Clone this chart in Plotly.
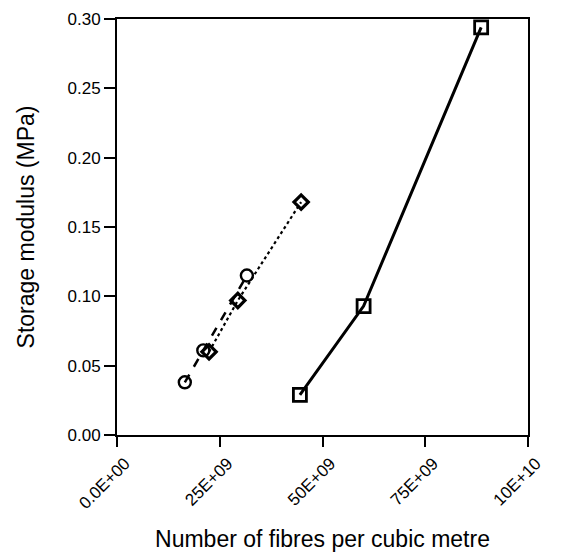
import plotly.graph_objects as go

# Fibre number density (fibres per m^3) and storage modulus (MPa)
circle_x = [16.5e9, 21.0e9, 31.6e9]
circle_y = [0.038, 0.061, 0.115]

diamond_x = [22.4e9, 29.4e9, 44.8e9]
diamond_y = [0.060, 0.097, 0.168]

square_x = [44.5e9, 60.0e9, 88.6e9]
square_y = [0.029, 0.093, 0.294]

x_tick_vals = [0, 25e9, 50e9, 75e9, 100e9]
x_tick_text = ["0.0E+00", "25E+09", "50E+09", "75E+09", "10E+10"]
y_tick_vals = [0.00, 0.05, 0.10, 0.15, 0.20, 0.25, 0.30]

FONT = "Liberation Sans, Arial, sans-serif"

fig = go.Figure()

fig.add_trace(go.Scatter(
    x=circle_x, y=circle_y, mode="lines+markers",
    line=dict(color="black", width=2.5, dash="dash"),
    marker=dict(symbol="circle-open", size=12, color="black", line=dict(width=2.4)),
))
fig.add_trace(go.Scatter(
    x=diamond_x, y=diamond_y, mode="lines+markers",
    line=dict(color="black", width=2.2, dash="dot"),
    marker=dict(symbol="diamond-open", size=11, color="black", line=dict(width=3.2)),
))
fig.add_trace(go.Scatter(
    x=square_x, y=square_y, mode="lines+markers",
    line=dict(color="black", width=3),
    marker=dict(symbol="square-open", size=13, color="black", line=dict(width=2.8)),
))

fig.update_layout(
    width=564, height=552,
    margin=dict(l=117, r=36, t=19, b=117),
    paper_bgcolor="white", plot_bgcolor="white",
    showlegend=False,
    font=dict(family=FONT, color="black", size=17),
)

fig.update_xaxes(
    range=[0, 100e9], tickvals=x_tick_vals, ticktext=x_tick_text,
    tickangle=-45, ticks="outside", ticklen=10, tickwidth=2, tickcolor="black",
    ticklabelshift=8, automargin=False,
    showline=True, linecolor="black", linewidth=2, mirror=True,
    showgrid=False, zeroline=False,
    tickfont=dict(size=17, family=FONT),
    title=dict(text="Number of fibres per cubic metre", font=dict(size=23, family=FONT), standoff=24),
)
fig.update_yaxes(
    range=[0, 0.30], tickvals=y_tick_vals, tickformat=".2f",
    ticks="outside", ticklen=11, tickwidth=2, tickcolor="black",
    automargin=False,
    showline=True, linecolor="black", linewidth=2, mirror=True,
    showgrid=False, zeroline=False,
    tickfont=dict(size=17, family=FONT),
    title=dict(text="Storage modulus (MPa)", font=dict(size=23, family=FONT), standoff=26),
)

fig.write_html("out.html")
